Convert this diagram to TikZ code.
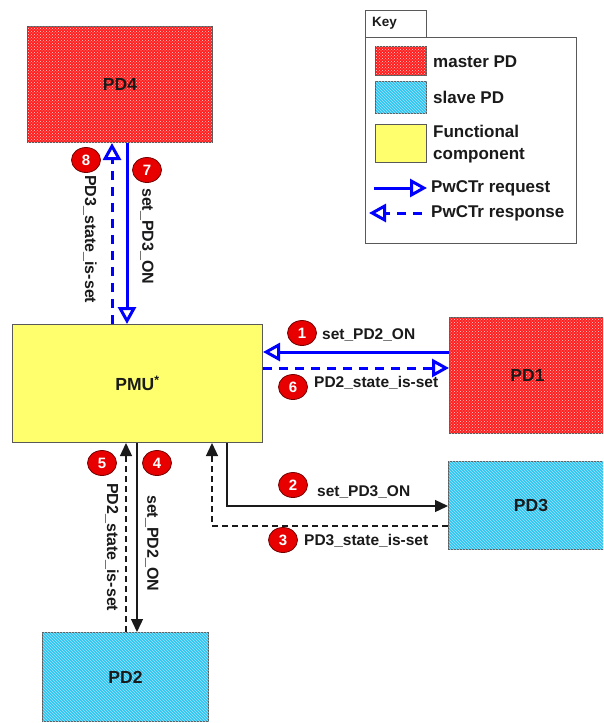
\documentclass[tikz,border=0pt]{standalone}
\usepackage{fontspec}
\setmainfont{Liberation Sans}
\usetikzlibrary{arrows.meta,patterns,shapes.geometric}
\definecolor{pdred}{HTML}{FF1F1F}
\definecolor{pdcyan}{HTML}{2EC4F2}
\definecolor{fyellow}{HTML}{FFFF6E}
\definecolor{arblue}{HTML}{0000FF}
\definecolor{numred}{HTML}{E80000}
\definecolor{txt}{HTML}{1A1A1A}
\tikzset{
 box/.style={draw=black!65, line width=1pt, inner sep=0pt, anchor=north west,
   font=\fontsize{17.5}{20}\selectfont\bfseries, text=txt},
 masterpd/.style={box, fill=pdred, postaction={pattern=crosshatch dots, pattern color=white!80!pdred}},
 slavepd/.style={box, fill=pdcyan, postaction={pattern=north west lines, pattern color=white!55!pdcyan}},
 func/.style={box, fill=fyellow},
 req/.style={draw=arblue, line width=3pt, -{Triangle[open, length=17pt, width=18pt]}},
 resp/.style={req, dash pattern=on 9pt off 7pt},
 blk/.style={draw=txt, line width=1.3pt, -{Triangle[length=13pt, width=12pt]}},
 blkd/.style={blk, dash pattern=on 6pt off 4pt},
 num/.style={ellipse, minimum width=29pt, minimum height=25pt, inner sep=0pt, fill=numred,
   draw=red!45!black, line width=0.8pt, text=white, font=\fontsize{15}{15}\selectfont\bfseries},
 lbl/.style={text=txt, font=\fontsize{15.5}{18}\selectfont\bfseries, inner sep=0pt, anchor=west},
 vlbl/.style={lbl, rotate=-90, font=\fontsize{16}{18}\selectfont\bfseries},
 keytxt/.style={text=txt, font=\fontsize{17}{22}\selectfont\bfseries, inner sep=0pt, anchor=west},
 keyframe/.style={draw=black!65, line width=0.8pt, anchor=north west, inner sep=0pt}
}
\begin{document}
\begin{tikzpicture}[x=1pt,y=-1pt]
\useasboundingbox (0,0) rectangle (603,723);
\fill[white] (0,0) rectangle (603,723);
\clip (0,0) rectangle (603,723);

% main boxes
\node[masterpd, minimum width=185pt, minimum height=116pt] (PD4) at (27,26) {PD4};
\node[func, minimum width=250pt, minimum height=118pt] (PMU) at (12,324) {PMU\textsuperscript{*}};
\node[masterpd, minimum width=156pt, minimum height=116pt] (PD1) at (449,317) {PD1};
\node[slavepd, minimum width=165pt, minimum height=88pt] (PD3) at (448,461) {PD3};
\node[slavepd, minimum width=166pt, minimum height=89pt] (PD2) at (42,632) {PD2};

% helper coordinates
\coordinate (c8) at (112,0);
\coordinate (c7) at (127,0);
\coordinate (r1) at (0,352);
\coordinate (r6) at (0,368);
\coordinate (c2) at (227,0);
\coordinate (r2) at (0,506);
\coordinate (c3) at (212,0);
\coordinate (r3) at (0,526);
\coordinate (c4) at (137,0);
\coordinate (c5) at (126,0);

% connectors
\draw[resp] (PMU.north -| c8) -- (PD4.south -| c8);
\draw[req] (PD4.south -| c7) -- (PMU.north -| c7);
\draw[req] (PD1.west |- r1) -- (PMU.east |- r1);
\draw[resp] (PMU.east |- r6) -- (PD1.west |- r6);
\draw[blk] (PMU.south -| c2) |- (PD3.west |- r2);
\draw[blkd] (PD3.west |- r3) -| (PMU.south -| c3);
\draw[blk] (PMU.south -| c4) -- (PD2.north -| c4);
\draw[blkd] (PD2.north -| c5) -- (PMU.south -| c5);

% step numbers
\node[num] (n1) at (302,333) {1};
\node[num] (n2) at (293,485) {2};
\node[num] (n3) at (283,540) {3};
\node[num] (n4) at (157,463) {4};
\node[num] (n5) at (102,463) {5};
\node[num] (n6) at (293,387) {6};
\node[num] (n7) at (147,170) {7};
\node[num] (n8) at (86,160) {8};

% labels
\node[lbl] (l1) at (322,335) {set\_PD2\_ON};
\node[lbl] (l6) at (314,383) {PD2\_state\_is-set};
\node[lbl] (l2) at (317,492) {set\_PD3\_ON};
\node[lbl] (l3) at (304,541) {PD3\_state\_is-set};
\node[vlbl] (l7) at (147,188) {set\_PD3\_ON};
\node[vlbl] (l8) at (90,175) {PD3\_state\_is-set};
\node[vlbl] (l4) at (152,495) {set\_PD2\_ON};
\node[vlbl] (l5) at (112,483) {PD2\_state\_is-set};

% key
\node[keyframe, minimum width=61pt, minimum height=27pt] (keytab) at (365,10) {};
\node[keytxt, font=\fontsize{13.5}{16}\selectfont\bfseries] (keylbl) at (372,23) {Key};
\node[keyframe, minimum width=211pt, minimum height=206pt] (keybox) at (365,37) {};
\node[masterpd, minimum width=51pt, minimum height=29pt] (kmaster) at (375,46) {};
\node[slavepd, minimum width=51pt, minimum height=32pt] (kslave) at (375,81) {};
\node[func, minimum width=51pt, minimum height=38pt] (kfunc) at (375,124) {};
\node[keytxt] (tmaster) at (433,62) {master PD};
\node[keytxt] (tslave) at (433,97) {slave PD};
\node[keytxt, align=left] (tfunc) at (433,144) {Functional\\component};
\node[keytxt] (treq) at (431,188) {PwCTr request};
\node[keytxt] (tresp) at (431,213) {PwCTr response};
\coordinate (kq1) at (374,188);
\coordinate (kq2) at (427,188);
\coordinate (kr1) at (422,213);
\coordinate (kr2) at (369,213);
\draw[req] (kq1) -- (kq2);
\draw[resp] (kr1) -- (kr2);
\end{tikzpicture}
\end{document}
